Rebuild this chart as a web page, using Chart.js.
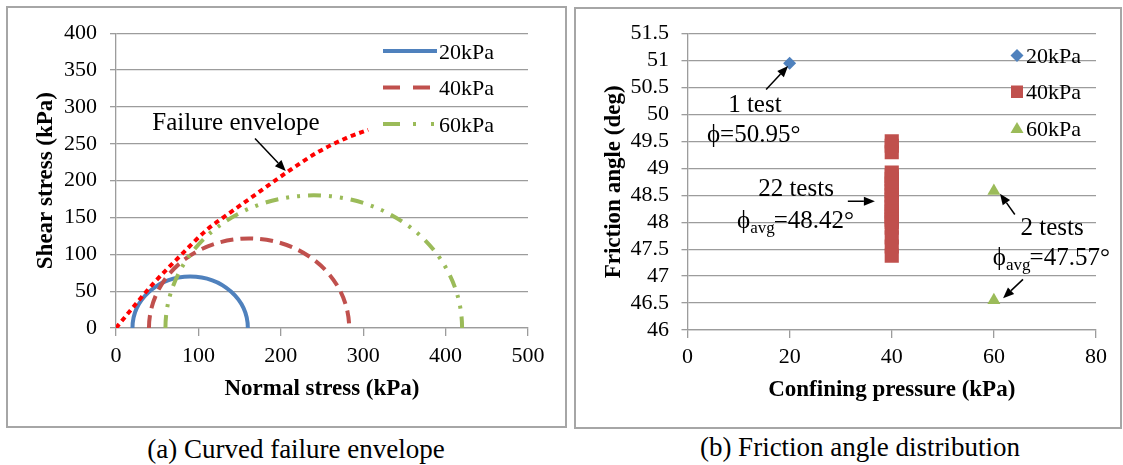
<!DOCTYPE html>
<html>
<head>
<meta charset="utf-8">
<script src="https://cdn.jsdelivr.net/npm/chart.js@4.4.1/dist/chart.umd.min.js"></script>
<style>
  html, body { margin: 0; padding: 0; background: #fff; }
  body { width: 1123px; height: 465px; position: relative; overflow: hidden; font-family: 'Liberation Serif', Tinos, 'Times New Roman', 'DejaVu Serif', 'Noto Serif', serif; }
  .box { position: absolute; border: 2px solid #a6a6a6; box-sizing: border-box; }
  canvas { position: absolute; }
  .cap { position: absolute; width: 440px; font-size: 27px; line-height: 31px; text-align: center; color: #000; white-space: nowrap; }
</style>
</head>
<body>
<div class="box" style="left:6px;top:6px;width:561px;height:422px;"></div>
<div class="box" style="left:574px;top:7px;width:548px;height:422px;"></div>
<canvas id="chartA" width="559" height="420" style="left:7px;top:7px;"></canvas>
<canvas id="chartB" width="545" height="420" style="left:575px;top:8px;"></canvas>
<div class="cap" style="left:76px;top:434px;">(a) Curved failure envelope</div>
<div class="cap" style="left:640px;top:432px;">(b) Friction angle distribution</div>

<script>
/* ---- data ---- */
// (a) Mohr circles: confining pressure σ3 and major principal stress σ1 at failure (kPa)
const circleLabels = ['20kPa', '40kPa', '60kPa'];
const sigma3 = [20, 40, 60];
const sigma1 = [160, 283, 420];
// curved failure envelope
const envX = [0, 21, 45, 78, 110, 134, 163, 207, 244, 280, 306];
const envY = [0, 28.5, 60, 98, 133, 153, 176, 211, 238, 258, 269];

// (b) friction angle per test (deg)
const phi20 = [50.95];
const phi40 = [49.5, 49.42, 49.3,
  48.92, 48.86, 48.8, 48.72, 48.65, 48.58, 48.5, 48.42, 48.35, 48.28,
  48.2, 48.15, 48.1, 48.05, 48.0, 47.9, 47.72, 47.55, 47.38];
const phi60 = [48.58, 46.55];

/* ---- styles ---- */
const BLUE = '#4F81BD', RED = '#C0504D', GREEN = '#9BBB59';
const GRID = '#9c9c9c';
const SERIF = "'Liberation Serif', Tinos, 'Times New Roman', 'DejaVu Serif', 'Noto Serif', serif";
const circleStyle = [
  { color: BLUE, dash: [], legendDash: [] },
  { color: RED, dash: [13, 7], legendDash: [17, 13] },
  { color: GREEN, dash: [13, 8, 3, 8, 3, 8], legendDash: [17, 13, 3, 15, 3, 30] },
];

Chart.defaults.font.family = SERIF;
Chart.defaults.font.size = 22;
Chart.defaults.color = '#000';

function arrow(ctx, x1, y1, x2, y2) {
  const a = Math.atan2(y2 - y1, x2 - x1), h = 11, w = 4.5;
  const bx = x2 - h * Math.cos(a), by = y2 - h * Math.sin(a);
  ctx.save();
  ctx.setLineDash([]);
  ctx.strokeStyle = '#000'; ctx.fillStyle = '#000'; ctx.lineWidth = 1.5;
  ctx.beginPath(); ctx.moveTo(x1, y1); ctx.lineTo(bx, by); ctx.stroke();
  ctx.beginPath(); ctx.moveTo(x2, y2);
  ctx.lineTo(bx + w * Math.sin(a), by - w * Math.cos(a));
  ctx.lineTo(bx - w * Math.sin(a), by + w * Math.cos(a));
  ctx.closePath(); ctx.fill();
  ctx.restore();
}

// ϕ + optional subscript + rest, left aligned
function phiText(ctx, x, y, sub, rest) {
  ctx.save();
  ctx.fillStyle = '#000'; ctx.textBaseline = 'middle'; ctx.textAlign = 'left';
  ctx.font = '25px ' + SERIF;
  ctx.fillText('ϕ', x, y);
  x += ctx.measureText('ϕ').width;
  if (sub) {
    ctx.font = '17px ' + SERIF;
    ctx.fillText(sub, x, y + 7);
    x += ctx.measureText(sub).width - 1;
    ctx.font = '25px ' + SERIF;
  }
  ctx.fillText(rest, x, y);
  ctx.restore();
}

/* ---- (a) Curved failure envelope ---- */
const mohrCircles = {
  id: 'mohrCircles',
  beforeDatasetsDraw(chart) {
    const { ctx, scales: { x, y } } = chart;
    ctx.save();
    sigma3.forEach((s3, i) => {
      const c = (s3 + sigma1[i]) / 2, r = (sigma1[i] - s3) / 2;
      const cx = x.getPixelForValue(c), cy = y.getPixelForValue(0);
      const rx = x.getPixelForValue(sigma1[i]) - cx;
      const ry = cy - y.getPixelForValue(r);
      ctx.beginPath();
      ctx.ellipse(cx, cy, rx, ry, 0, Math.PI, 2 * Math.PI);
      ctx.strokeStyle = circleStyle[i].color;
      ctx.lineWidth = 4;
      ctx.setLineDash(circleStyle[i].dash);
      ctx.stroke();
    });
    ctx.restore();
  },
};

const legendA = {
  id: 'legendA',
  afterDraw(chart) {
    const { ctx } = chart;
    ctx.save();
    circleLabels.forEach((lab, i) => {
      const yy = 44 + i * 36.5;
      ctx.beginPath();
      ctx.moveTo(376, yy); ctx.lineTo(430, yy);
      ctx.strokeStyle = circleStyle[i].color; ctx.lineWidth = 4;
      ctx.setLineDash(circleStyle[i].legendDash);
      ctx.stroke();
      ctx.setLineDash([]);
      ctx.fillStyle = '#000'; ctx.font = '22px ' + SERIF;
      ctx.textBaseline = 'middle'; ctx.textAlign = 'left';
      ctx.fillText(lab, 432, yy + 2);
    });
    ctx.restore();
  },
};

const notesA = {
  id: 'notesA',
  afterDraw(chart) {
    const { ctx, scales: { x, y } } = chart;
    ctx.save();
    ctx.fillStyle = '#000'; ctx.font = '25px ' + SERIF;
    ctx.textAlign = 'center'; ctx.textBaseline = 'middle';
    ctx.fillText('Failure envelope', x.getPixelForValue(145.6), y.getPixelForValue(278));
    arrow(ctx, x.getPixelForValue(168.7), y.getPixelForValue(257),
      x.getPixelForValue(206), y.getPixelForValue(213));
    ctx.restore();
  },
};

new Chart(document.getElementById('chartA'), {
  type: 'line',
  data: {
    datasets: [{
      label: 'Failure envelope',
      data: envX.map((v, i) => ({ x: v, y: envY[i] })),
      borderColor: '#FF0000',
      borderWidth: 4,
      borderDash: [5, 4],
      cubicInterpolationMode: 'monotone',
      pointRadius: 0,
      fill: false,
    }],
  },
  options: {
    responsive: false,
    animation: false,
    layout: { padding: { top: 22, right: 38, left: 0, bottom: 0 } },
    plugins: { legend: { display: false }, tooltip: { enabled: false } },
    scales: {
      x: {
        type: 'linear', min: 0, max: 500,
        ticks: { stepSize: 100, padding: 7, autoSkip: false, maxRotation: 0 },
        grid: { drawOnChartArea: false, drawTicks: true, tickLength: 8, color: GRID, lineWidth: 1.3 },
        border: { color: GRID, width: 1.3 },
        title: { display: true, text: 'Normal stress (kPa)', font: { size: 23, weight: 'bold' }, padding: { top: 0, bottom: 24 } },
        afterFit: s => { s.height = 99; },
      },
      y: {
        type: 'linear', min: 0, max: 400,
        ticks: { stepSize: 50, padding: 13, autoSkip: false },
        grid: { color: GRID, lineWidth: 1.3, tickLength: 6 },
        border: { color: GRID, width: 1.3 },
        title: { display: true, text: 'Shear stress (kPa)', font: { size: 23, weight: 'bold' }, padding: { top: 25, bottom: 0 } },
        afterFit: s => { s.width = 109; },
      },
    },
  },
  plugins: [mohrCircles, legendA, notesA],
});

/* ---- (b) Friction angle distribution ---- */
const legendB = {
  id: 'legendB',
  afterDraw(chart) {
    const { ctx } = chart;
    const mx = 442;
    ctx.save();
    // diamond
    ctx.fillStyle = BLUE;
    ctx.beginPath();
    ctx.moveTo(mx, 41); ctx.lineTo(mx + 6.5, 47.5); ctx.lineTo(mx, 54); ctx.lineTo(mx - 6.5, 47.5);
    ctx.closePath(); ctx.fill();
    // square
    ctx.fillStyle = RED;
    ctx.fillRect(mx - 6, 77.5, 12, 12.5);
    // triangle
    ctx.fillStyle = GREEN;
    ctx.beginPath();
    ctx.moveTo(mx, 114); ctx.lineTo(mx + 6.5, 125); ctx.lineTo(mx - 6.5, 125);
    ctx.closePath(); ctx.fill();
    ctx.fillStyle = '#000'; ctx.font = '22px ' + SERIF;
    ctx.textBaseline = 'middle'; ctx.textAlign = 'left';
    circleLabels.forEach((lab, i) => ctx.fillText(lab, 451, 49 + i * 36.5));
    ctx.restore();
  },
};

const notesB = {
  id: 'notesB',
  afterDraw(chart) {
    const { ctx, scales: { x, y } } = chart;
    const X = v => x.getPixelForValue(v), Y = v => y.getPixelForValue(v);
    ctx.save();
    ctx.fillStyle = '#000'; ctx.font = '25px ' + SERIF;
    ctx.textAlign = 'center'; ctx.textBaseline = 'middle';
    ctx.fillText('1 test', X(13.2), Y(50.17));
    ctx.fillText('22 tests', X(21.25), Y(48.61));
    ctx.fillText('2 tests', X(71.4), Y(47.89));
    phiText(ctx, X(3.8), Y(49.62), '', '=50.95°');
    phiText(ctx, X(9.7), Y(48.02), 'avg', '=48.42°');
    phiText(ctx, X(59.8), Y(47.32), 'avg', '=47.57°');
    arrow(ctx, X(15.4), Y(50.465), X(19.7), Y(50.9));
    arrow(ctx, X(31.4), Y(48.39), X(36.7), Y(48.39));
    arrow(ctx, X(64.1), Y(48.145), X(61.2), Y(48.53));
    arrow(ctx, X(65.7), Y(46.94), X(61.8), Y(46.59));
    ctx.restore();
  },
};

new Chart(document.getElementById('chartB'), {
  type: 'scatter',
  data: {
    datasets: [
      {
        label: circleLabels[0],
        data: phi20.map(v => ({ x: sigma3[0], y: v })),
        pointStyle: 'rectRot', pointRadius: 6.5,
        backgroundColor: BLUE, borderColor: BLUE, borderWidth: 0,
      },
      {
        label: circleLabels[1],
        data: phi40.map(v => ({ x: sigma3[1], y: v })),
        pointStyle: 'rect', pointRadius: 10,
        backgroundColor: RED, borderColor: RED, borderWidth: 0,
      },
      {
        label: circleLabels[2],
        data: phi60.map(v => ({ x: sigma3[2], y: v })),
        pointStyle: 'triangle', pointRadius: 7.5,
        backgroundColor: GREEN, borderColor: GREEN, borderWidth: 0,
      },
    ],
  },
  options: {
    responsive: false,
    animation: false,
    layout: { padding: { top: 22.7, right: 24, left: 0, bottom: 0 } },
    plugins: { legend: { display: false }, tooltip: { enabled: false } },
    scales: {
      x: {
        type: 'linear', min: 0, max: 80,
        ticks: { stepSize: 20, padding: 6, autoSkip: false, maxRotation: 0 },
        grid: { drawOnChartArea: false, drawTicks: true, tickLength: 8, color: GRID, lineWidth: 1.3 },
        border: { color: GRID, width: 1.3 },
        title: { display: true, text: 'Confining pressure (kPa)', font: { size: 23, weight: 'bold' }, padding: { top: 0, bottom: 24 } },
        afterFit: s => { s.height = 98; },
      },
      y: {
        type: 'linear', min: 46, max: 51.5,
        ticks: { stepSize: 0.5, padding: 12.5, autoSkip: false, callback: v => String(Math.round(v * 10) / 10) },
        grid: { color: GRID, lineWidth: 1.3, tickLength: 6 },
        border: { color: GRID, width: 1.3 },
        title: { display: true, text: 'Friction angle (deg)', font: { size: 23, weight: 'bold' }, padding: { top: 25, bottom: 0 } },
        afterFit: s => { s.width = 112.5; },
      },
    },
  },
  plugins: [legendB, notesB],
});
</script>
</body>
</html>
